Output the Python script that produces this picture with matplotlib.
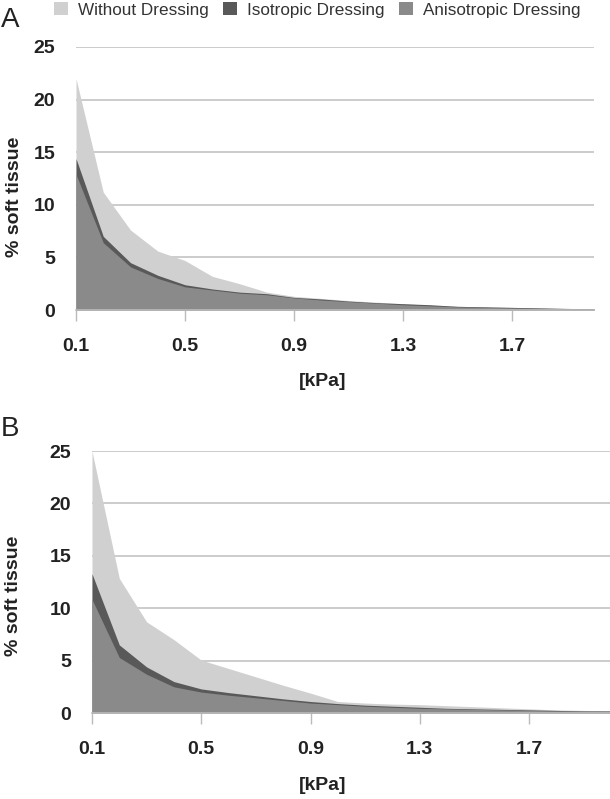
import matplotlib
matplotlib.use("Agg")
import matplotlib.pyplot as plt
from matplotlib.patches import Patch

plt.rcParams['font.family'] = ['Liberation Sans', 'DejaVu Sans']

# pressure categories [kPa]
kpa = [0.1, 0.2, 0.3, 0.4, 0.5, 0.6, 0.7, 0.8, 0.9, 1.0,
       1.1, 1.2, 1.3, 1.4, 1.5, 1.6, 1.7, 1.8, 1.9, 2.0]
xticks = [0.1, 0.5, 0.9, 1.3, 1.7]
yticks = [0, 5, 10, 15, 20, 25]
names = ["Without Dressing", "Isotropic Dressing", "Anisotropic Dressing"]

# panel A (% soft tissue)
a_without = [22.0, 11.2, 7.6, 5.6, 4.7, 3.2, 2.5, 1.7, 1.3, 1.1,
             0.9, 0.75, 0.6, 0.45, 0.35, 0.3, 0.25, 0.2, 0.15, 0.12]
a_iso = [14.4, 7.0, 4.5, 3.3, 2.4, 2.0, 1.7, 1.55, 1.2, 1.05,
         0.85, 0.7, 0.6, 0.5, 0.35, 0.3, 0.25, 0.2, 0.15, 0.12]
a_aniso = [12.9, 6.4, 4.1, 3.0, 2.2, 1.9, 1.6, 1.45, 1.15, 0.95,
           0.8, 0.65, 0.5, 0.4, 0.3, 0.25, 0.2, 0.15, 0.12, 0.08]

# panel B (% soft tissue)
b_without = [25.0, 12.85, 8.7, 7.0, 5.05, 4.25, 3.45, 2.65, 1.9, 1.1,
             0.95, 0.85, 0.8, 0.7, 0.6, 0.5, 0.4, 0.3, 0.25, 0.2]
b_iso = [13.3, 6.5, 4.4, 3.0, 2.3, 1.95, 1.65, 1.35, 1.1, 0.9,
         0.75, 0.65, 0.55, 0.45, 0.4, 0.35, 0.3, 0.25, 0.2, 0.2]
b_aniso = [10.85, 5.3, 3.7, 2.5, 2.0, 1.7, 1.45, 1.2, 0.95, 0.8,
           0.65, 0.55, 0.45, 0.4, 0.35, 0.3, 0.25, 0.2, 0.18, 0.15]

colors = ['#d0d0d0', '#595959', '#8a8a8a']
bold = dict(fontsize=14, fontweight='bold', color='#222222')


def draw_panel(ax, series):
    for vals, c in zip(series, colors):
        ax.fill_between(kpa, 0, vals, color=c, linewidth=0, zorder=2)
    ax.set_xlim(0.1, 2.0)
    ax.set_ylim(0, 25)
    ax.set_xticks(xticks)
    ax.set_xticklabels([f"{t:.1f}" for t in xticks], **bold)
    ax.set_yticks(yticks)
    ax.set_yticklabels([str(t) for t in yticks], **bold)
    ax.tick_params(axis='x', length=8, width=1, color='#bbbbbb', pad=12)
    ax.tick_params(axis='y', length=0, pad=15)
    for t in yticks[1:]:
        ax.axhline(t, color='#c8c8c8', linewidth=1.3, zorder=1)
    for s in ['top', 'right', 'left']:
        ax.spines[s].set_visible(False)
    ax.spines['bottom'].set_color('#bbbbbb')
    ax.spines['bottom'].set_linewidth(1.2)
    ax.spines['bottom'].set_zorder(3)


fig = plt.figure(figsize=(6.10, 7.99), dpi=100)
ax_a = fig.add_axes([0.1246, 0.6120, 0.8492, 0.3292])
ax_b = fig.add_axes([0.1508, 0.1076, 0.8508, 0.3279])

draw_panel(ax_a, [a_without, a_iso, a_aniso])
draw_panel(ax_b, [b_without, b_iso, b_aniso])

# axis titles
fig.text(323 / 610, 1 - 382 / 799, "[kPa]", ha='center', va='center', **bold)
fig.text(323 / 610, 1 - 786 / 799, "[kPa]", ha='center', va='center', **bold)
fig.text(15 / 610, 1 - 197 / 799, "% soft tissue", rotation=90,
         ha='center', va='center', **bold)
fig.text(14 / 610, 1 - 596 / 799, "% soft tissue", rotation=90,
         ha='center', va='center', **bold)

# panel letters
fig.text(1 / 610, 1 - 20 / 799, "A", fontsize=20, ha='left', va='center',
         color='#222222')
fig.text(1 / 610, 1 - 429 / 799, "B", fontsize=20, ha='left', va='center',
         color='#222222')

handles = [Patch(facecolor=c, edgecolor='none') for c in colors]
fig.legend(handles, names, loc='center', bbox_to_anchor=(0.52, 1 - 10 / 799),
           ncol=3, frameon=False, fontsize=12.3, handlelength=0.8,
           handleheight=0.8, handletextpad=0.6, columnspacing=0.85,
           labelcolor='#333333', borderpad=0)

fig.savefig("out.png", dpi=100)
